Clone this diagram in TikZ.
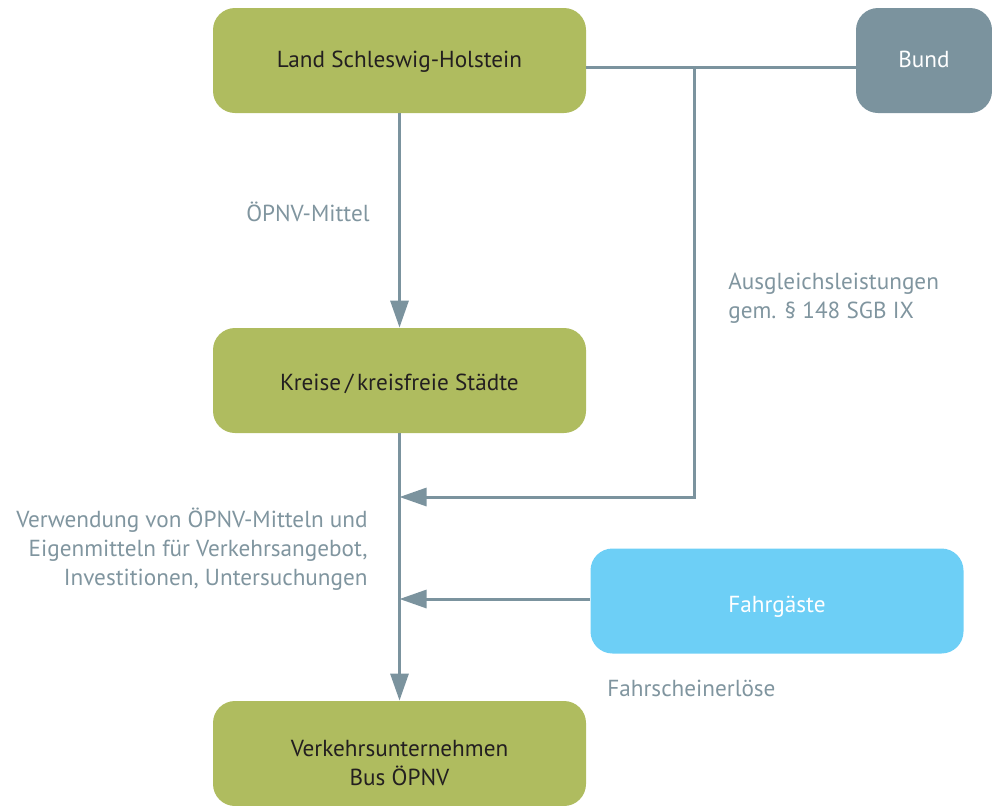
\documentclass[tikz,border=0pt]{standalone}
\usepackage{fontspec}
\setmainfont{PT Sans}
\usetikzlibrary{arrows.meta}
\definecolor{gruen}{HTML}{AFBC5F}
\definecolor{bundgrau}{HTML}{7B939E}
\definecolor{hellblau}{HTML}{6DCFF6}
\definecolor{linie}{HTML}{7B939E}
\definecolor{schrift}{HTML}{80959F}
\definecolor{dunkel}{HTML}{231F20}
% Text im Kasten etwas tiefer setzen
\newcommand{\tiefer}[2]{\raisebox{-#1}[0pt][0pt]{#2}}

\begin{document}
\begin{tikzpicture}[x=0.5pt,y=-0.5pt,every node/.style={font=\fontsize{11.6}{14.5}\selectfont},
    kasten/.style={rounded corners=11pt,minimum width=186.5pt,minimum height=52.5pt,inner sep=0pt,align=center},
    gruenkasten/.style={kasten,fill=gruen,text=dunkel},
    beschriftung/.style={text=schrift,inner sep=0pt},
    linienzug/.style={linie,line width=1.5pt},
    pfeil/.style={linienzug,-{Triangle[length=13.5pt,width=9pt]}}]
    % Rahmen wie im Original (992 x 805 px)
    \useasboundingbox (0,0) rectangle (992,805);

    % Kästen
    \node[gruenkasten] (land) at (399.5,60.5) {\tiefer{3.3pt}{Land Schleswig-Holstein}};
    \node[kasten,fill=bundgrau,text=white,minimum width=68pt] (bund) at (924,60.5) {\tiefer{3.3pt}{Bund}};
    \node[gruenkasten] (kreise) at (399.5,380.5) {\tiefer{4.75pt}{Kreise\,/\,kreisfreie Städte}};
    \node[kasten,fill=hellblau,text=white] (fahrgaeste) at (777,601) {\tiefer{5.75pt}{Fahrgäste}};
    \node[gruenkasten] (verkehr) at (399.5,753.5)
        {\tiefer{9pt}{\begin{tabular}{@{}c@{}}Verkehrsunternehmen\\Bus ÖPNV\end{tabular}}};

    % Hilfspunkte für den Bundes-Strang
    \coordinate (abzweig) at (694,67);
    \coordinate (knick) at (694,497);

    % Verbindungen
    \draw[pfeil] (land) -- (kreise);
    \draw[linienzug] (land.east |- abzweig) -- (bund.west |- abzweig);
    \draw[pfeil] (abzweig) -- (knick) -- (knick -| kreise.south);
    \draw[pfeil] (kreise) -- (verkehr);
    \draw[pfeil] (fahrgaeste.west |- 0,599) -- (kreise.south |- 0,599);

    % Beschriftungen
    \node[beschriftung,anchor=east] (mittel) at (370,212) {ÖPNV-Mittel};
    \node[beschriftung,anchor=west,align=left] (ausgleich) at (728,298)
        {Ausgleichsleistungen\\gem. § 148 SGB IX};
    \node[beschriftung,anchor=east,align=right] (verwendung) at (368,549)
        {Verwendung von ÖPNV-Mitteln und\\Eigenmitteln für Verkehrsangebot,\\Investitionen, Untersuchungen};
    \node[beschriftung,anchor=west] (erloese) at (607,688) {Fahrscheinerlöse};
\end{tikzpicture}
\end{document}
